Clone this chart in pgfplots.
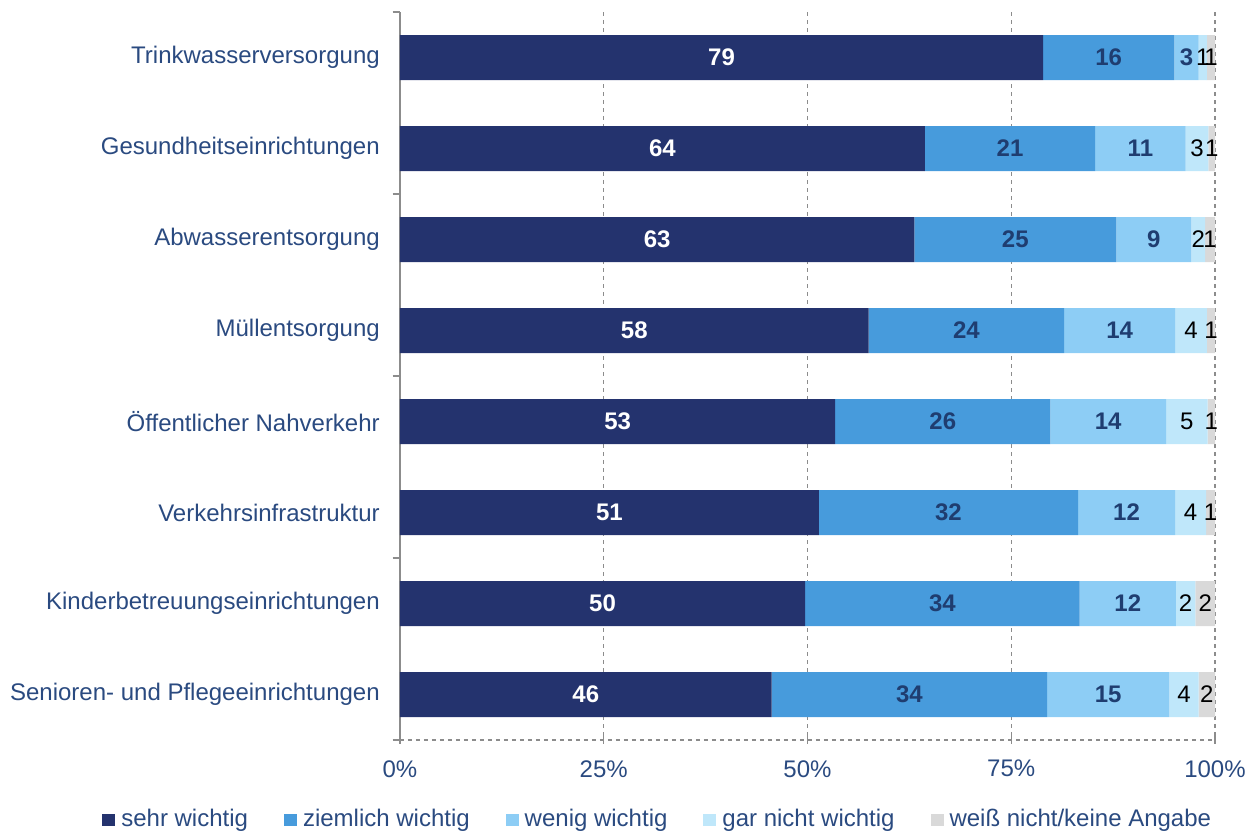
\documentclass[border=0pt]{standalone}
\usepackage{pgfplots}
\pgfplotsset{compat=1.18}
\usepackage{pgfplotstable}
\usepackage{fontspec}
\setmainfont{Liberation Sans}
\definecolor{cA}{HTML}{24336E}
\definecolor{cB}{HTML}{479BDC}
\definecolor{cC}{HTML}{8DCDF5}
\definecolor{cD}{HTML}{BFE7FA}
\definecolor{cE}{HTML}{D9D9D9}
\definecolor{txt}{HTML}{2A4A80}
\definecolor{lbl}{HTML}{1F3D70}
\definecolor{axg}{HTML}{8C8C8C}
\pgfplotsset{/pgf/number format/assume math mode=true}

\pgfplotstableread{
idx a b c d e
0 78.9 16.1 3.0 1.0 1.0
1 64.4 20.9 11.1 2.8 0.8
2 63.1 24.8 9.2 1.7 1.2
3 57.5 24.0 13.6 3.9 1.0
4 53.4 26.4 14.2 5.1 0.9
5 51.4 31.8 11.9 3.8 1.1
6 49.7 33.7 11.8 2.4 2.4
7 45.6 33.8 15.0 3.6 2.0
}\data

\begin{document}
\fontsize{18pt}{21pt}\selectfont
\begin{tikzpicture}
\path[use as bounding box] (-300pt,-71.25pt) rectangle (645pt,555pt);
\begin{axis}[
  name=main, at={(0,0)}, anchor=south west,
  scale only axis, width=611.25pt, height=546pt,
  xbar stacked, bar width=33.75pt,
  xmin=0, xmax=100, ymin=-0.5, ymax=7.5, y dir=reverse,
  axis x line*=bottom, axis y line*=left,
  x axis line style={axg, dashed, line width=1.1pt},
  y axis line style={axg, line width=1.3pt},
  xtick={0,25,50,75,100},
  xticklabel={\pgfmathprintnumber{\tick}\%},
  minor xtick={0,25,50,75,100},
  ytick={0,...,7},
  yticklabels={Trinkwasserversorgung,Gesundheitseinrichtungen,Abwasserentsorgung,Müllentsorgung,Öffentlicher Nahverkehr,Verkehrsinfrastruktur,Kinderbetreuungseinrichtungen\ ,Senioren- und Pflegeeinrichtungen},
  minor ytick={-0.5,1.5,3.5,5.5,7.5},
  major tick length=0pt, minor tick length=5.5pt,
  xtick align=center, ytick align=outside,
  tick style={axg, line width=1.1pt},
  xmajorgrids, major grid style={axg, dashed, line width=1.1pt},
  yticklabel style={text=txt, font=\fontsize{18pt}{21pt}\selectfont, xshift=-9pt},
  xticklabel style={text=txt, font=\fontsize{18pt}{21pt}\selectfont, yshift=-9pt},
  legend style={at={(0.3166,-0.11)}, anchor=center, draw=none, fill=none,
    legend columns=5, font=\fontsize{18pt}{21pt}\selectfont, text=txt,
    /tikz/every odd column/.append style={column sep=2.5pt},
    /tikz/every even column/.append style={column sep=25pt}},
  legend cell align=left,
  legend image code/.code={\fill[#1] (0pt,-4.5pt) rectangle (9.75pt,4.5pt);},
]
\addplot[fill=cA, draw=none] table[x=a, y=idx] {\data};
\addplot[fill=cB, draw=none] table[x=b, y=idx] {\data};
\addplot[fill=cC, draw=none] table[x=c, y=idx] {\data};
\addplot[fill=cD, draw=none] table[x=d, y=idx] {\data};
\addplot[fill=cE, draw=none] table[x=e, y=idx] {\data};
\legend{sehr wichtig,ziemlich wichtig,wenig wichtig,gar nicht wichtig,weiß nicht/keine Angabe}
\end{axis}
\begin{axis}[
  at={(0,0)}, anchor=south west,
  scale only axis, width=611.25pt, height=546pt,
  xmin=0, xmax=100, ymin=-0.5, ymax=7.5, y dir=reverse,
  hide axis, clip=false,
  nodes near coords={\pgfmathprintnumber[fixed,precision=0]{\pgfplotspointmeta}},
  point meta=explicit,
]
\addplot[only marks, mark=none, every node near coord/.style={anchor=center, text=white, font=\bfseries\fontsize{18pt}{21pt}\selectfont}]
  table[x expr=\thisrow{a}/2, y=idx, meta=a] {\data};
\addplot[only marks, mark=none, every node near coord/.style={anchor=center, text=lbl, font=\bfseries\fontsize{18pt}{21pt}\selectfont}]
  table[x expr=\thisrow{a}+\thisrow{b}/2, y=idx, meta=b] {\data};
\addplot[only marks, mark=none, every node near coord/.style={anchor=center, text=lbl, font=\bfseries\fontsize{18pt}{21pt}\selectfont}]
  table[x expr=\thisrow{a}+\thisrow{b}+\thisrow{c}/2, y=idx, meta=c] {\data};
\addplot[only marks, mark=none, every node near coord/.style={anchor=center, inner sep=0pt, text=black, font=\fontsize{18pt}{21pt}\selectfont}]
  table[x expr=\thisrow{a}+\thisrow{b}+\thisrow{c}+\thisrow{d}/2, y=idx, meta=d] {\data};
\addplot[only marks, mark=none, every node near coord/.style={anchor=center, inner sep=0pt, text=black, font=\fontsize{18pt}{21pt}\selectfont}]
  table[x expr=\thisrow{a}+\thisrow{b}+\thisrow{c}+\thisrow{d}+\thisrow{e}/2, y=idx, meta=e] {\data};
\end{axis}
\end{tikzpicture}
\end{document}
